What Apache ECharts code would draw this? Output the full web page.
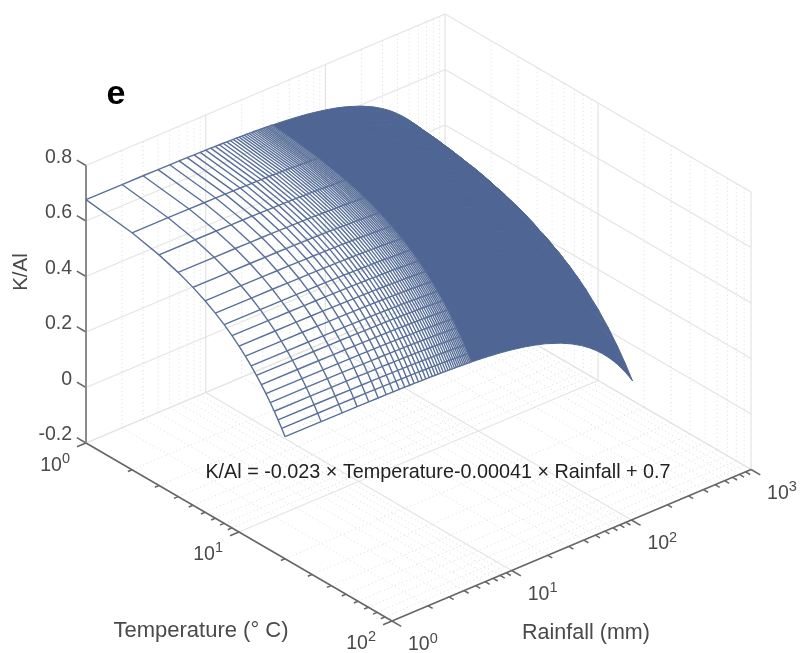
<!DOCTYPE html>
<html>
<head>
<meta charset="utf-8">
<title>K/Al surface</title>
<script src="https://cdn.jsdelivr.net/npm/echarts@6/dist/echarts.min.js"></script>
<style>
    html, body { margin: 0; padding: 0; background: #fff; }
    #chart { width: 803px; height: 653px; }
</style>
</head>
<body>
<div id="chart"></div>
<script>
// axis ticks
var temperatureMajor = [1, 10, 100];
var temperatureMinor = [2, 3, 4, 5, 6, 7, 8, 9, 20, 30, 40, 50, 60, 70, 80, 90];
var rainfallMajor = [1, 10, 100, 1000];
var rainfallMinor = [2, 3, 4, 5, 6, 7, 8, 9, 20, 30, 40, 50, 60, 70, 80, 90, 200, 300, 400, 500, 600, 700, 800, 900];
var kalTicks = [-0.2, 0, 0.2, 0.4, 0.6, 0.8];
var kalTickLabels = ['-0.2', '0', '0.2', '0.4', '0.6', '0.8'];
var temperatureTickLabels = ['0', '1', '2'];
var rainfallTickLabels = ['0', '1', '2', '3'];

// surface: K/Al along the rainfall = 1 edge ...
var meshTemperature = [1, 2, 3, 4, 5, 6, 7, 8, 9, 10, 11, 12, 13, 14, 15, 16, 17, 18, 19, 20];
var kalAtEdge = [0.677, 0.654, 0.631, 0.608, 0.585, 0.562, 0.539, 0.516, 0.493, 0.470,
    0.447, 0.424, 0.401, 0.378, 0.355, 0.332, 0.309, 0.286, 0.263, 0.240];
// ... and how far it has dropped at each rainfall line
var meshRainfall = [1, 2, 3, 4, 5, 6, 7, 8, 9, 10, 11, 12, 13, 14, 15, 16, 17, 18, 19, 20,
    21, 22, 23, 24, 25, 26, 27, 28, 29, 30, 31, 32, 33, 34, 35, 36];
var meshDrop = [0, 0.0004, 0.0008, 0.0012, 0.0016, 0.0021, 0.0025, 0.0029, 0.0033, 0.0037,
    0.0041, 0.0045, 0.0049, 0.0053, 0.0057, 0.0062, 0.0066, 0.0070, 0.0074, 0.0078,
    0.0082, 0.0086, 0.0090, 0.0094, 0.0098, 0.0103, 0.0107, 0.0111, 0.0115, 0.0119,
    0.0123, 0.0127, 0.0131, 0.0135, 0.0139, 0.0144];
// past this the lines merge into a solid band, sampled finer so its outline stays smooth
var solidRainfall = [36, 40, 45, 50, 60, 70, 80, 100, 125, 150, 200, 250, 300, 350, 400, 450, 500, 550, 600, 650, 700, 750, 800];
var solidDrop = [0.0144, 0.0160, 0.0180, 0.0201, 0.0242, 0.0283, 0.0324, 0.0406, 0.0508, 0.0611, 0.0816, 0.1021,
    0.1226, 0.1431, 0.1636, 0.1841, 0.2046, 0.2251, 0.2456, 0.2661, 0.2866, 0.3071, 0.3276];
var solidTemperature = [1, 1.1, 1.2, 1.35, 1.5, 1.75, 2, 2.25, 2.5, 2.75, 3, 3.5, 4, 4.5, 5, 6, 7, 8, 9, 10, 12, 14, 16, 18, 20];
var solidKal = [0.677, 0.675, 0.672, 0.669, 0.666, 0.660, 0.654, 0.648, 0.643, 0.637, 0.631, 0.620, 0.608, 0.597, 0.585,
    0.562, 0.539, 0.516, 0.493, 0.470, 0.424, 0.378, 0.332, 0.286, 0.240];

var surfaceColor = '#4f6694';
var fontName = '"Liberation Sans", Arial, sans-serif';

// oblique view of the log/log/linear box, in axis units of the hidden grid
function project (t, r, k) {
    var a = Math.log10(t);
    var b = Math.log10(r);
    return [
        86 + 153 * a + 119.7 * b,
        443 + 89 * a - 50.5 * b - 277.5 * (k + 0.2)
    ];
}

function line3d (points) {
    return points.map(function (p) { return project(p[0], p[1], p[2]); });
}

// one custom series that draws a list of projected polylines
function pathSeries (paths, style, closed) {
    return {
        type: 'custom',
        coordinateSystem: 'cartesian2d',
        silent: true,
        clip: false,
        animation: false,
        data: paths.map(function (p, i) { return [i]; }),
        renderItem: function (params, api) {
            var pts = paths[params.dataIndex].map(function (p) { return api.coord(p); });
            return {
                type: closed ? 'polygon' : 'polyline',
                shape: { points: pts },
                style: style
            };
        }
    };
}

// labels: {pos, dx, dy, text, align, size, rich, rotation}
function textSeries (labels) {
    return {
        type: 'custom',
        coordinateSystem: 'cartesian2d',
        silent: true,
        clip: false,
        animation: false,
        data: labels.map(function (p, i) { return [i]; }),
        renderItem: function (params, api) {
            var l = labels[params.dataIndex];
            var c = api.coord(l.pos);
            return {
                type: 'text',
                x: c[0] + (l.dx || 0),
                y: c[1] + (l.dy || 0),
                rotation: l.rotation || 0,
                style: {
                    text: l.text,
                    rich: l.rich,
                    align: l.align || 'center',
                    verticalAlign: 'middle',
                    font: l.font || ('19.5px ' + fontName),
                    fill: l.color || '#4a4a4a'
                }
            };
        }
    };
}

var wallMajor = [];
var wallMinor = [];
var floorK = kalTicks[0];
var topK = kalTicks[kalTicks.length - 1];
var tMin = temperatureMajor[0];
var tMax = temperatureMajor[2];
var rMin = rainfallMajor[0];
var rMax = rainfallMajor[3];

// floor
temperatureMajor.forEach(function (t) {
    wallMajor.push(line3d([[t, rMin, floorK], [t, rMax, floorK]]));
});
rainfallMajor.forEach(function (r) {
    wallMajor.push(line3d([[tMin, r, floorK], [tMax, r, floorK]]));
});
temperatureMinor.forEach(function (t) {
    wallMinor.push(line3d([[t, rMin, floorK], [t, rMax, floorK]]));
    wallMinor.push(line3d([[t, rMax, floorK], [t, rMax, topK]]));
});
rainfallMinor.forEach(function (r) {
    wallMinor.push(line3d([[tMin, r, floorK], [tMax, r, floorK]]));
    wallMinor.push(line3d([[tMin, r, floorK], [tMin, r, topK]]));
});
// back walls
kalTicks.forEach(function (k) {
    wallMajor.push(line3d([[tMin, rMin, k], [tMin, rMax, k]]));
    wallMajor.push(line3d([[tMin, rMax, k], [tMax, rMax, k]]));
});
rainfallMajor.slice(1).forEach(function (r) {
    wallMajor.push(line3d([[tMin, r, floorK], [tMin, r, topK]]));
});
temperatureMajor.slice(1).forEach(function (t) {
    wallMajor.push(line3d([[t, rMax, floorK], [t, rMax, topK]]));
});

// axes and ticks
var axisPaths = [
    line3d([[tMin, rMin, floorK], [tMax, rMin, floorK]]),
    line3d([[tMax, rMin, floorK], [tMax, rMax, floorK]])
];
var kalAxisPath = [line3d([[tMin, rMin, floorK], [tMin, rMin, topK]])];
function rStep (r, d) { return r * Math.pow(10, d); }
function tStep (t, d) { return t * Math.pow(10, d); }
temperatureMajor.forEach(function (t) {
    axisPaths.push(line3d([[t, rMin, floorK], [t, rStep(rMin, -0.075), floorK]]));
});
temperatureMinor.forEach(function (t) {
    axisPaths.push(line3d([[t, rMin, floorK], [t, rStep(rMin, -0.035), floorK]]));
});
rainfallMajor.forEach(function (r) {
    axisPaths.push(line3d([[tMax, r, floorK], [tStep(tMax, 0.06), r, floorK]]));
});
rainfallMinor.forEach(function (r) {
    axisPaths.push(line3d([[tMax, r, floorK], [tStep(tMax, 0.03), r, floorK]]));
});
kalTicks.forEach(function (k) {
    axisPaths.push(line3d([[tMin, rMin, k], [tStep(tMin, -0.06), rMin, k]]));
});

// surface: solid band first, then the open mesh on top
var bandPaths = [];
for (var i = 0; i < solidTemperature.length - 1; i++) {
    var band = [];
    solidRainfall.forEach(function (r, j) {
        band.push([solidTemperature[i], r, solidKal[i] - solidDrop[j]]);
    });
    for (var j = solidRainfall.length - 1; j >= 0; j--) {
        band.push([solidTemperature[i + 1], solidRainfall[j], solidKal[i + 1] - solidDrop[j]]);
    }
    bandPaths.push(line3d(band));
}
var meshPaths = [];
meshTemperature.forEach(function (t, i) {
    meshPaths.push(line3d(meshRainfall.map(function (r, j) {
        return [t, r, kalAtEdge[i] - meshDrop[j]];
    })));
});
meshRainfall.forEach(function (r, j) {
    meshPaths.push(line3d(meshTemperature.map(function (t, i) {
        return [t, r, kalAtEdge[i] - meshDrop[j]];
    })));
});

// text
var powerRich = {
    b: { font: '19.5px ' + fontName, fill: '#4a4a4a', lineHeight: 24, verticalAlign: 'bottom' },
    s: { font: '14.5px ' + fontName, fill: '#4a4a4a', lineHeight: 12, verticalAlign: 'top' }
};
var labels = [];
kalTicks.forEach(function (k, i) {
    labels.push({ pos: project(tMin, rMin, k), dx: -14, dy: -8, align: 'right', text: kalTickLabels[i] });
});
temperatureMajor.forEach(function (t, i) {
    labels.push({
        pos: project(t, rMin, floorK), dx: -16, dy: 20.5, align: 'right',
        text: '{b|10}{s|' + temperatureTickLabels[i] + '}', rich: powerRich
    });
});
rainfallMajor.forEach(function (r, i) {
    labels.push({
        pos: project(tMax, r, floorK), dx: 16, dy: 22, align: 'left',
        text: '{b|10}{s|' + rainfallTickLabels[i] + '}', rich: powerRich
    });
});
labels.push({ pos: [21, 272], text: 'K/Al', rotation: Math.PI / 2, font: '20.5px ' + fontName });
labels.push({ pos: [201, 631], text: 'Temperature (° C)', font: '22px ' + fontName });
labels.push({ pos: [586, 633], text: 'Rainfall (mm)', font: '21.5px ' + fontName });
labels.push({ pos: [438, 473], text: 'K/Al = -0.023 × Temperature-0.00041 × Rainfall + 0.7', font: '19.8px ' + fontName, color: '#222' });
labels.push({ pos: [116, 95], text: 'e', font: 'bold 34px ' + fontName, color: '#000' });

var chart = echarts.init(document.getElementById('chart'));
chart.setOption({
    animation: false,
    grid: { left: 0, right: 0, top: 0, bottom: 0 },
    xAxis: { type: 'value', min: 0, max: 803, show: false },
    yAxis: { type: 'value', min: 0, max: 653, inverse: true, show: false },
    series: [
        pathSeries(wallMinor, { fill: null, stroke: '#dcdcdc', lineWidth: 1, lineDash: [1, 3] }),
        pathSeries(wallMajor, { fill: null, stroke: '#e4e4e4', lineWidth: 1.2 }),
        pathSeries(axisPaths, { fill: null, stroke: '#666666', lineWidth: 1.5 }),
        pathSeries(kalAxisPath, { fill: null, stroke: '#8a8a8a', lineWidth: 2 }),
        pathSeries(bandPaths, { fill: surfaceColor, stroke: surfaceColor, lineWidth: 1 }, true),
        pathSeries(meshPaths, { fill: null, stroke: '#5a7099', lineWidth: 1.4 }),
        textSeries(labels)
    ]
});
</script>
</body>
</html>
